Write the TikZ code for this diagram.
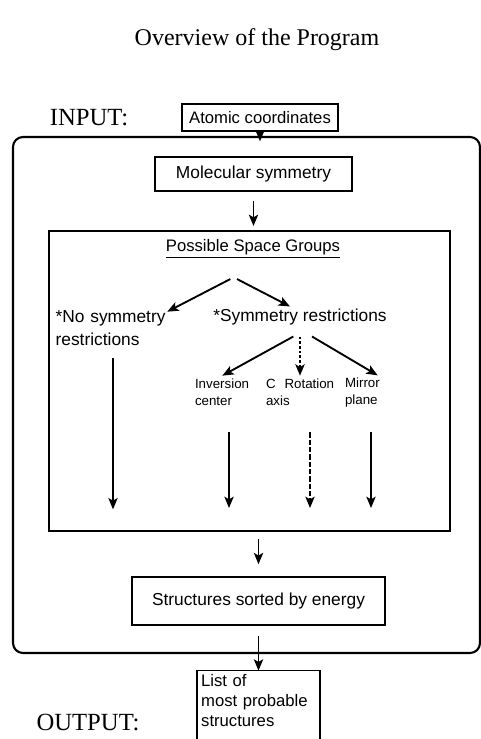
\documentclass[tikz,border=0pt]{standalone}
\usepackage{fontspec}
\setmainfont{Liberation Serif}
\newfontfamily\boxfont{Liberation Sans}
\usetikzlibrary{arrows.meta,positioning}

\begin{document}
\begin{tikzpicture}[
    x=0.75pt, y=-0.75pt,
    box/.style={rectangle, draw, line width=1.2pt, inner sep=0pt, font=\boxfont\fontsize{13}{15}\selectfont},
    branch/.style={align=left, inner sep=2pt, font=\boxfont\fontsize{13}{17}\selectfont},
    leaf/.style={align=left, inner sep=2pt, font=\boxfont\fontsize{10}{12.75}\selectfont},
    arrow/.style={-{Stealth[length=8.5pt,width=7pt,inset=2pt]}, line width=1.1pt},
    longarrow/.style={arrow, shorten <=18pt, shorten >=18pt}
]
    \useasboundingbox (0,0) rectangle (481,739);

    \node[font=\fontsize{18}{22}\selectfont] (title) at (257,40) {Overview of the Program};
    \node[font=\fontsize{18.5}{22}\selectfont] (input) at (89,118) {INPUT:};
    \node[box, font=\boxfont\fontsize{12.5}{15}\selectfont, minimum width=117pt, minimum height=20.25pt] (atomic) at (260,117.5) {Atomic coordinates};

    % program frame
    \node[draw, line width=1.6pt, rounded corners=7.5pt, minimum width=350.25pt, minimum height=387pt] (outer) at (246.5,395) {};
    \node[box, minimum width=147.75pt, minimum height=25.5pt] (molsym) at (253.5,174) {Molecular symmetry};

    % space groups
    \node[draw, line width=1.5pt, minimum width=300.75pt, minimum height=225pt] (groups) at (249.5,381) {};
    \node[font=\boxfont\fontsize{12.5}{15}\selectfont, inner sep=2pt] (head) at (253,249) {\underline{Possible Space Groups}};
    \node[branch, text width=86pt] (nosym) at (113,328) {*No symmetry\\restrictions};
    \node[branch] (sym) at (300,317.5) {*Symmetry restrictions};
    \node[leaf, text width=51pt] (inv) at (229,392) {Inversion\\center};
    \node[leaf, text width=66pt] (rot) at (310,392) {C~~Rotation\\axis};
    \node[leaf, text width=39pt] (mirror) at (371,393) {Mirror\\plane};

    \node[box, minimum width=189.75pt, minimum height=36pt] (sorted) at (258.5,601) {Structures sorted by energy};

    \node[font=\fontsize{18.5}{22}\selectfont] (output) at (88,722) {OUTPUT:};
    \node[align=left, text width=86pt, inner sep=3pt, font=\boxfont\fontsize{12.5}{15}\selectfont] (list) at (258.5,701) {List of\\most probable\\structures};
    \coordinate (listend) at (258.5,760);
    \draw[line width=1.1pt] (list.west |- listend) |- (list.north east) -- (list.east |- listend);

    \draw[arrow, shorten >=-4pt] (atomic.south) -- (atomic.south |- outer.north);
    \draw[arrow, shorten <=6.75pt, shorten >=3pt] (molsym.south) -- (molsym.south |- groups.north);
    \draw[arrow, line width=1.4pt] ([xshift=-17pt,yshift=-13.5pt]head.south) -- ([xshift=-4.5pt,yshift=-3pt]nosym.north east);
    \draw[arrow, line width=1.4pt] ([xshift=-12pt,yshift=-13.5pt]head.south) -- ([xshift=-7.5pt]sym.north);
    \draw[arrow, line width=1.4pt] ([xshift=-5pt,yshift=-6pt]sym.south) -- ([xshift=-5pt]inv.north);
    \draw[arrow, dash pattern=on 2pt off 1.5pt] ([yshift=-6pt]sym.south) -- (sym.south |- rot.north);
    \draw[arrow, line width=1.4pt] ([xshift=9pt,yshift=-6pt]sym.south) -- ([xshift=5pt]mirror.north);

    \draw[arrow, shorten <=7.5pt, shorten >=17pt] (nosym.south) -- (nosym.south |- groups.south);
    \draw[longarrow] (inv.south) -- (inv.south |- groups.south);
    \draw[longarrow, dash pattern=on 4pt off 1.5pt] (rot.south) -- (rot.south |- groups.south);
    \draw[longarrow, shorten <=16pt] (mirror.south) -- (mirror.south |- groups.south);

    \draw[arrow, shorten <=5pt, shorten >=9pt] (sorted.north |- groups.south) -- (sorted.north);
    \draw[arrow, shorten <=7.5pt] (sorted.south) -- (list.north);
\end{tikzpicture}
\end{document}
